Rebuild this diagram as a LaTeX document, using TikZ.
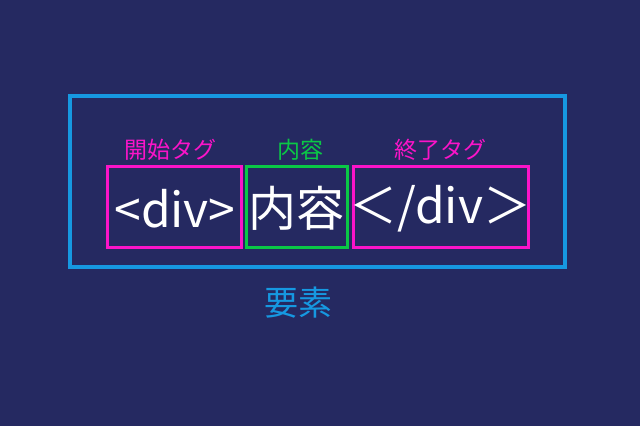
\documentclass[tikz,border=0pt]{standalone}
\usepackage{fontspec}
\usepackage{xcolor}
\usetikzlibrary{positioning}
\newfontfamily\jpfont{Noto Sans CJK JP}
\definecolor{bgnavy}{RGB}{37,41,97}
\definecolor{elemblue}{RGB}{22,152,225}
\definecolor{tagpink}{RGB}{250,20,200}
\definecolor{bodygreen}{RGB}{10,200,70}

\begin{document}
\begin{tikzpicture}[x=1pt, y=-1pt,
    box/.style={line width=3pt, minimum height=81pt, inner sep=0pt},
    tagbox/.style={box, draw=tagpink},
    bodybox/.style={box, draw=bodygreen},
    code/.style={inner sep=0pt, text=white, font=\jpfont\fontsize{48}{48}\selectfont},
    caption/.style={inner sep=0pt, font=\jpfont\fontsize{23}{23}\selectfont}]

    % background
    \fill[bgnavy] (0,0) rectangle (640,426);
    \useasboundingbox (0,0) rectangle (640,426);

    % element frame
    \node[draw=elemblue, line width=4.5pt, minimum width=495pt, minimum height=171pt,
        inner sep=0pt] (element) at (317.5,181.5) {};

    % tags and content
    \node[tagbox, minimum width=134pt] (opentag) at (174,206.5) {};
    \node[bodybox, minimum width=101pt] (content) at (296.5,206.5) {};
    \node[tagbox, minimum width=175pt] (closetag) at (440.5,206.5) {};
    \node[code] (opentext) at (175,208.5) {<div>};
    \node[code] (contenttext) at (296.5,208.5) {内容};
    \node[code] (closetext) at (440.5,208.5) {＜/div＞};

    % captions
    \node[caption, text=tagpink] (opencap) at (170,150) {開始タグ};
    \node[caption, text=bodygreen] (contentcap) at (300,150) {内容};
    \node[caption, text=tagpink] (closecap) at (440,150) {終了タグ};

    \node[caption, text=elemblue, font=\jpfont\fontsize{34}{34}\selectfont] (elemcap) at (298,303) {要素};
\end{tikzpicture}
\end{document}
